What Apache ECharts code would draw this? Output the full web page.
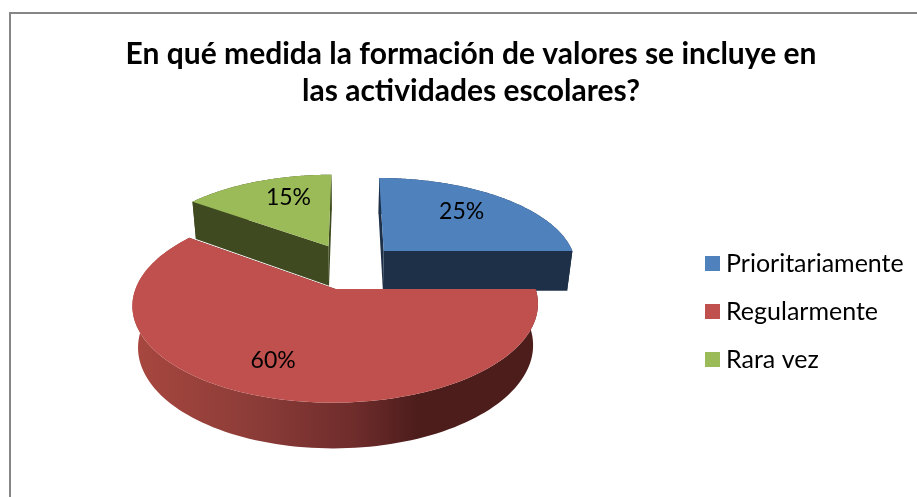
<!DOCTYPE html>
<html><head><meta charset="utf-8">
<style>html,body{margin:0;padding:0;background:#fff}#c{width:917px;height:497px}</style>
<script src="https://cdn.jsdelivr.net/npm/echarts@6/dist/echarts.min.js"></script>
</head><body><div id="c"></div>
<script>
const titleText = 'En qué medida la formación de valores se incluye en\nlas actividades escolares?';
const categories = ['Prioritariamente', 'Regularmente', 'Rara vez'];
const values = [25, 60, 15];
const topColors = ['#4F81BD', '#C0504D', '#9BBB59'];
const faceColors = ['#1D3048', '#4D1D1C', '#3F4A20'];

// Projection of the tilted disc onto the page
const C = {x: 350, y: 268.5, A: 196, B: 90, k: 0.16, g: 0.025, H: 41.4};
// Per-slice layout: explosion, radius, vertical lift in pixels
const explode = [0.25, 0.23, 0.25];
const radius = [0.99, 0.985, 0.98];
const lift = [-2, 0, -3];
// Label placement per slice: fraction of radius and angle shift in degrees
const labelPlace = [[0.68, -3], [0.71, 4], [0.68, 6]];

const total = values.reduce((a, b) => a + b, 0);
function sliceAngles(i) {
  let s = 0;
  for (let j = 0; j < i; j++) s += values[j];
  return [s / total * 2 * Math.PI, (s + values[i]) / total * 2 * Math.PI];
}
function proj(X, Y, z, dy) {
  const D = 1 + C.k * Y + C.g * z;
  return [C.x + C.A * X / D, C.y + dy + (-C.B * Y + C.H * z) / D];
}
function renderSlice(i) {
  const [a0, a1] = sliceAngles(i);
  const mid = (a0 + a1) / 2;
  const ox = explode[i] * Math.sin(mid), oy = explode[i] * Math.cos(mid);
  const r = radius[i];
  const dy = lift[i];
  const rim = (t, z) => proj(ox + r * Math.sin(t), oy + r * Math.cos(t), z, dy);
  const apex = z => proj(ox, oy, z, dy);
  const N = 120;
  const arc = z => {
    const p = [];
    for (let n = 0; n <= N; n++) p.push(rim(a0 + (a1 - a0) * n / N, z));
    return p;
  };
  const children = [];
  const face = (pts, fill, z2) => children.push({
    type: 'polygon', shape: {points: pts}, style: {fill: fill}, silent: true, z2: z2
  });
  // radial cut faces
  face([apex(0), rim(a0, 0), rim(a0, 1), apex(1)], faceColors[i], 1);
  face([apex(0), rim(a1, 0), rim(a1, 1), apex(1)], faceColors[i], 1);
  // outer wall
  const top = arc(0), bot = arc(1);
  if (i === 1) {
    children.push({
      type: 'polygon', shape: {points: top.concat(bot.slice().reverse())}, silent: true, z2: 2,
      style: {fill: new echarts.graphic.LinearGradient(0, 0, 1, 0, [
        {offset: 0, color: '#A8473F'},
        {offset: 0.3, color: '#8C3C38'},
        {offset: 0.55, color: '#6E2C2B'},
        {offset: 0.7, color: '#4D1D1C'},
        {offset: 1, color: '#4D1D1C'}
      ])}
    });
  } else {
    face(top.concat(bot.slice().reverse()), faceColors[i], 1);
  }
  // top surface
  face([apex(0)].concat(top), topColors[i], 3);
  // percentage label
  const lp = labelPlace[i];
  const t = mid + lp[1] * Math.PI / 180;
  const q = proj(ox + lp[0] * Math.sin(t), oy + lp[0] * Math.cos(t), 0, dy);
  children.push({
    type: 'text', z2: 5, silent: true, x: q[0], y: q[1],
    style: {text: Math.round(values[i] / total * 100) + '%', fill: '#000',
      font: '23px Lato', align: 'center', verticalAlign: 'middle'}
  });
  return {type: 'group', children: children};
}
// back slices first, front slice last
const drawOrder = [2, 0, 1];
const series = drawOrder.map((i, o) => ({
  type: 'custom', name: categories[i], coordinateSystem: 'none',
  data: [values[i]], z: 2 + o, silent: true,
  itemStyle: {color: topColors[i]},
  renderItem: () => renderSlice(i)
}));
const chart = echarts.init(document.getElementById('c'), null, {renderer: 'canvas'});
chart.setOption({
  animation: false,
  backgroundColor: '#fff',
  title: {text: titleText, left: 471, top: 36, textAlign: 'center', padding: 0,
    textStyle: {fontFamily: 'Lato', fontWeight: 'bold', fontSize: 30, color: '#000', lineHeight: 37}},
  legend: {
    data: categories, orient: 'vertical', left: 705, top: 251, padding: 0, itemWidth: 15, itemHeight: 15,
    itemGap: 23, icon: 'rect', selectedMode: false,
    textStyle: {fontFamily: 'Lato', fontSize: 25, color: '#000', lineHeight: 25, padding: [0, 0, 0, 1]}
  },
  graphic: [{type: 'rect', shape: {x: 10, y: 13, width: 1000, height: 1000},
    style: {fill: 'none', stroke: '#868686', lineWidth: 2}, silent: true, z: 0}],
  series: series
});
</script></body></html>
